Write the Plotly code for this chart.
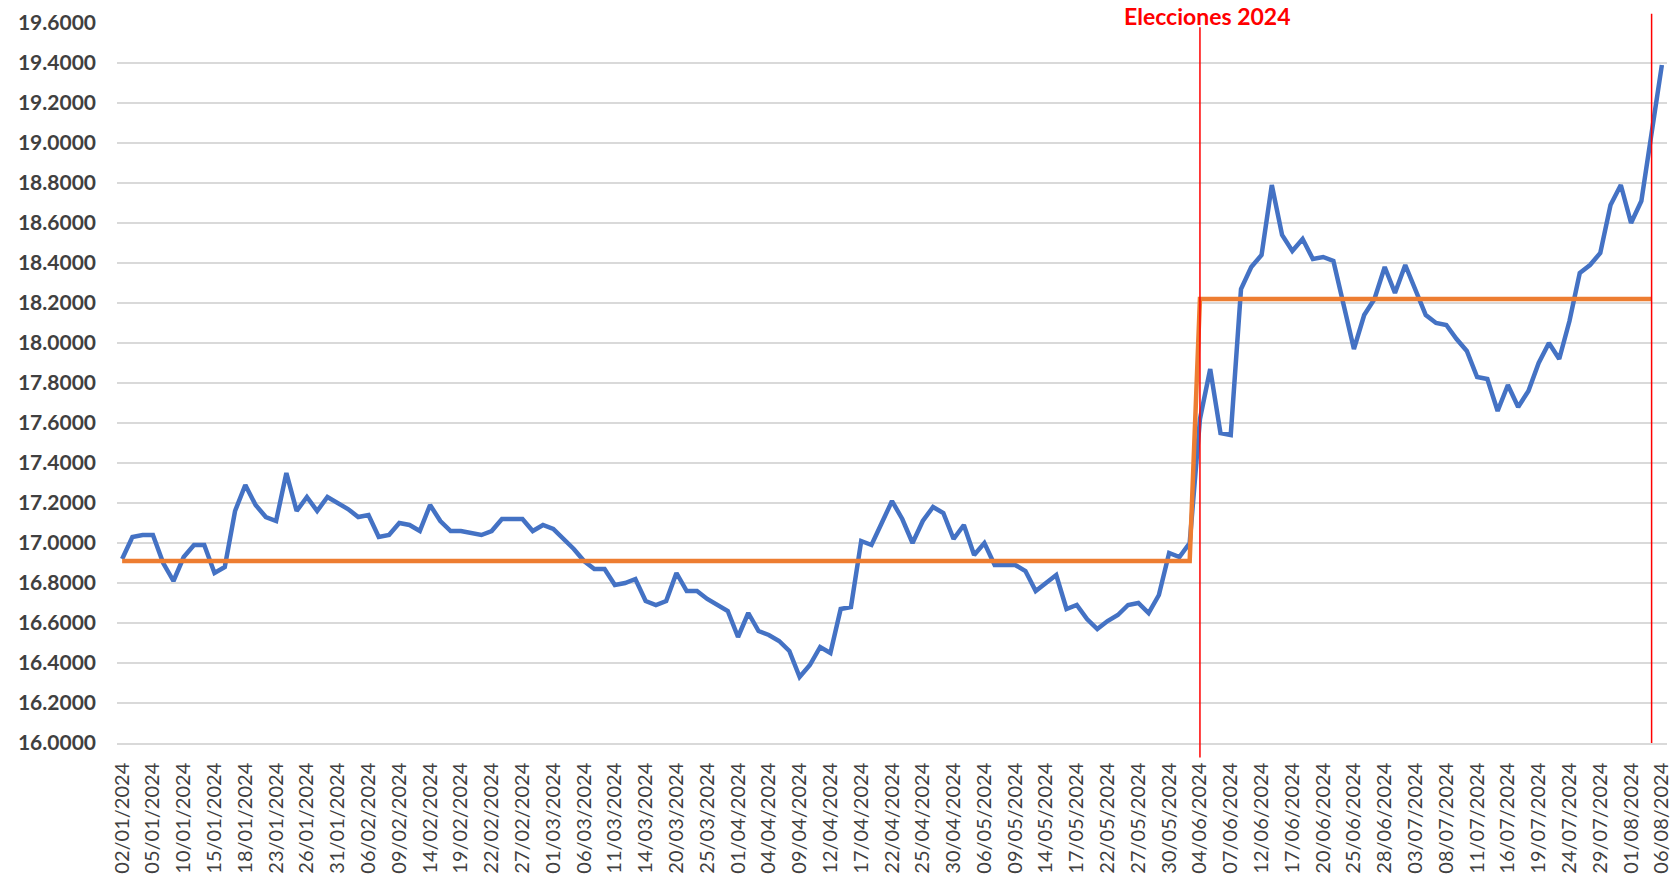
import plotly.graph_objects as go

# ---- Categories: Banxico FIX business days, 2024 ----
jan_days = [2, 3, 4, 5, 8, 9, 10, 11, 12, 15, 16, 17, 18, 19, 22, 23, 24, 25, 26, 29, 30, 31]
feb_days = [1, 2, 6, 7, 8, 9, 12, 13, 14, 15, 16, 19, 20, 21, 22, 23, 26, 27, 28, 29]
mar_days = [1, 4, 5, 6, 7, 8, 11, 12, 13, 14, 15, 19, 20, 21, 22, 25, 26, 27]
apr_days = [1, 2, 3, 4, 5, 8, 9, 10, 11, 12, 15, 16, 17, 18, 19, 22, 23, 24, 25, 26, 29, 30]
may_days = [2, 3, 6, 7, 8, 9, 10, 13, 14, 15, 16, 17, 20, 21, 22, 23, 24, 27, 28, 29, 30, 31]
jun_days = [3, 4, 5, 6, 7, 10, 11, 12, 13, 14, 17, 18, 19, 20, 21, 24, 25, 26, 27, 28]
jul_days = [1, 2, 3, 4, 5, 8, 9, 10, 11, 12, 15, 16, 17, 18, 19, 22, 23, 24, 25, 26, 29, 30, 31]
aug_days = [1, 2, 5, 6]
month_days = [jan_days, feb_days, mar_days, apr_days, may_days, jun_days, jul_days, aug_days]
dates = [f"{d:02d}/{m:02d}/2024" for m, days in enumerate(month_days, start=1) for d in days]

# ---- Series: USD/MXN exchange rate ----
rate = [
    16.92, 17.03, 17.04, 17.04, 16.90, 16.81, 16.93, 16.99, 16.99, 16.85,
    16.88, 17.16, 17.29, 17.19, 17.13, 17.11, 17.35, 17.16, 17.23, 17.16,
    17.23, 17.20, 17.17, 17.13, 17.14, 17.03, 17.04, 17.10, 17.09, 17.06,
    17.19, 17.11, 17.06, 17.06, 17.05, 17.04, 17.06, 17.12, 17.12, 17.12,
    17.06, 17.09, 17.07, 17.02, 16.97, 16.91, 16.87, 16.87, 16.79, 16.80,
    16.82, 16.71, 16.69, 16.71, 16.85, 16.76, 16.76, 16.72, 16.69, 16.66,
    16.53, 16.65, 16.56, 16.54, 16.51, 16.46, 16.33, 16.39, 16.48, 16.45,
    16.67, 16.68, 17.01, 16.99, 17.10, 17.21, 17.12, 17.00, 17.11, 17.18,
    17.15, 17.02, 17.09, 16.94, 17.00, 16.89, 16.89, 16.89, 16.86, 16.76,
    16.80, 16.84, 16.67, 16.69, 16.62, 16.57, 16.61, 16.64, 16.69, 16.70,
    16.65, 16.74, 16.95, 16.93, 17.00, 17.62, 17.87, 17.55, 17.54, 18.27,
    18.38, 18.44, 18.79, 18.54, 18.46, 18.52, 18.42, 18.43, 18.41, 18.19,
    17.97, 18.14, 18.22, 18.38, 18.25, 18.39, 18.26, 18.14, 18.10, 18.09,
    18.02, 17.96, 17.83, 17.82, 17.66, 17.79, 17.68, 17.76, 17.90, 18.00,
    17.92, 18.11, 18.35, 18.39, 18.45, 18.69, 18.79, 18.60, 18.71, 19.04,
    19.39,
]

# ---- Period averages ----
avg_pre = 16.91
avg_post = 18.22
election_date = "04/06/2024"
marker_date = "05/08/2024"
annotation_text = "Elecciones 2024"

election_idx = dates.index(election_date)
marker_idx = dates.index(marker_date)
avg_series = [avg_pre if i < election_idx else (avg_post if i <= marker_idx else None)
              for i in range(len(dates))]

tick_labels = dates[::3]

fig = go.Figure()
fig.add_trace(go.Scatter(x=dates, y=rate, mode="lines",
                         line=dict(color="#4472C4", width=4.5), showlegend=False,
                         hoverinfo="x+y"))
fig.add_trace(go.Scatter(x=dates, y=avg_series, mode="lines",
                         line=dict(color="#ED7D31", width=4.5), showlegend=False,
                         hoverinfo="x+y"))

fig.add_shape(type="line", xref="x", yref="paper", x0=election_idx, x1=election_idx,
              y0=-0.02, y1=0.994, line=dict(color="#FF0000", width=1.5), layer="above")
fig.add_shape(type="line", xref="x", yref="paper", x0=marker_idx, x1=marker_idx,
              y0=0.0, y1=1.013, line=dict(color="#FF0000", width=1.5), layer="above")

fig.add_annotation(x=election_idx, xref="x", y=1, yref="paper", text=f"<b>{annotation_text}</b>",
                   showarrow=False, xanchor="center", yanchor="middle", xshift=8, yshift=7,
                   borderpad=0, font=dict(family="Lato", size=23, color="#FF0000"))

fig.update_layout(
    width=1678, height=880,
    margin=dict(l=117, r=6, t=23, b=137),
    paper_bgcolor="white", plot_bgcolor="white",
    font=dict(family="Lato", color="#404040"),
)
fig.update_xaxes(
    type="category", range=[-0.5, len(dates) - 0.5],
    tickmode="array", tickvals=tick_labels, ticktext=tick_labels,
    tickangle=-90, tickfont=dict(family="Lato", size=20, color="#404040"),
    showgrid=False, showline=True, linecolor="#d9d9d9", linewidth=1.5,
    ticks="", ticklabelstandoff=10, zeroline=False,
)
fig.update_yaxes(
    range=[16, 19.6], tick0=16, dtick=0.2, tickformat=".4f",
    tickfont=dict(family="Lato", size=21, color="#404040", weight="bold"),
    showgrid=True, gridcolor="#d9d9d9", gridwidth=1.5,
    zeroline=False, showline=False, ticks="", ticklabelstandoff=20,
)

fig.write_html("out.html", config={"displayModeBar": False},
               post_script="document.body.style.margin='0';document.body.style.overflow='hidden';")
